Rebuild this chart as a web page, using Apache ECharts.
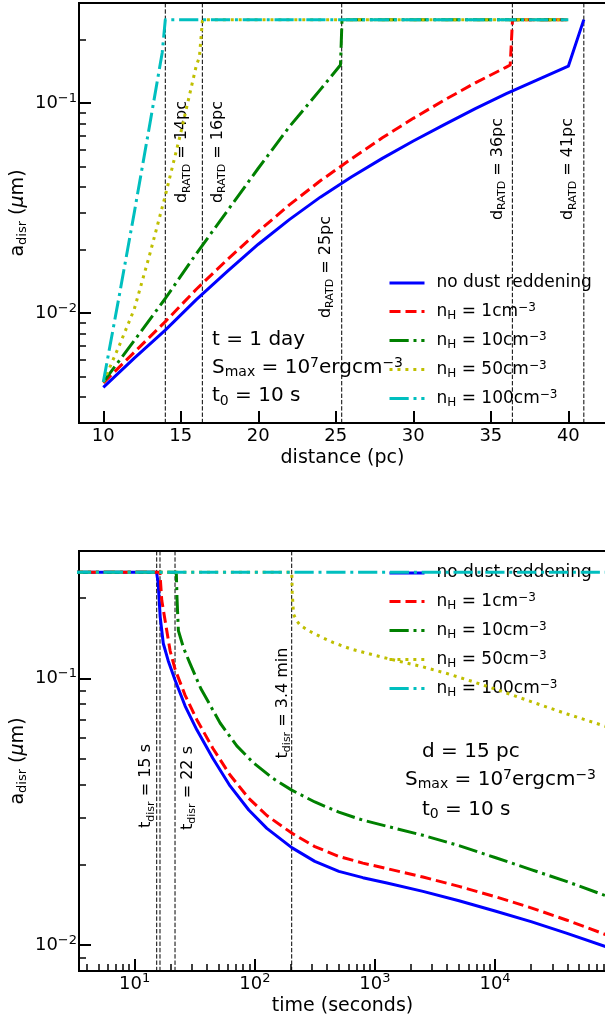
<!DOCTYPE html>
<html><head><meta charset="utf-8">
<script src="https://cdn.jsdelivr.net/npm/echarts@6/dist/echarts.min.js"></script>
<style>html,body{margin:0;padding:0;background:#fff}#c{width:605px;height:1017px}</style>
</head><body><div id="c"></div>
<script>
const FONT = 'DejaVu Sans';
const BLACK = '#000000';

// ---------- top panel (t = 1 day): a_disr vs distance (pc) ----------
const dist_noDust = [10, 12, 14, 16, 18, 20, 22, 24, 26, 28, 30, 32, 34, 36, 38, 40, 41];
const adisr_noDust = [0.00443, 0.00611, 0.0083, 0.0116, 0.0158, 0.0213, 0.0279, 0.0357, 0.0445, 0.0546, 0.0661, 0.0791, 0.0942, 0.111, 0.129, 0.150, 0.25];
const dist_n1 = [10, 12, 14, 16, 18, 20, 22, 24, 26, 28, 30, 32, 34, 36, 36.25, 36.4, 40];
const adisr_n1 = [0.00466, 0.00652, 0.00912, 0.0130, 0.0180, 0.0245, 0.0328, 0.0427, 0.0543, 0.0684, 0.0847, 0.1035, 0.125, 0.1486, 0.152, 0.25, 0.25];
const dist_n10 = [10, 12, 14, 16, 18, 20, 22, 24, 25.3, 25.4, 40];
const adisr_n10 = [0.0047, 0.00741, 0.01175, 0.0192, 0.0307, 0.049, 0.0772, 0.116, 0.152, 0.25, 0.25];
const dist_n50 = [10, 11, 12, 13, 14, 15, 16, 16.2, 16.4, 40];
const adisr_n50 = [0.0047, 0.00692, 0.01047, 0.0191, 0.0363, 0.0724, 0.151, 0.166, 0.25, 0.25];
const dist_n100 = [10, 11, 12, 13, 13.8, 14, 40];
const adisr_n100 = [0.0047, 0.0118, 0.0302, 0.0794, 0.174, 0.25, 0.25];

// ---------- bottom panel (d = 15 pc): a_disr vs time (s) ----------
const time_noDust = [3, 15.2, 15.7, 16.3, 17.3, 19, 21.7, 26.3, 32.9, 44.7, 62.2, 89.1, 126, 203, 316, 501, 794, 1259, 2512, 5012, 10000, 19953, 39811, 84000];
const adisr2_noDust = [0.25, 0.25, 0.226, 0.17, 0.135, 0.1164, 0.0983, 0.0787, 0.0641, 0.0502, 0.0395, 0.0321, 0.0274, 0.0232, 0.0206, 0.0189, 0.0179, 0.0171, 0.0159, 0.01466, 0.01343, 0.01225, 0.01107, 0.00986];
const time_n1 = [3, 16.2, 16.8, 19.7, 21.7, 26.3, 32.9, 44.7, 62.2, 89.1, 126, 203, 316, 501, 794, 1259, 2512, 5012, 10000, 19953, 39811, 84000];
const adisr2_n1 = [0.25, 0.25, 0.196, 0.127, 0.108, 0.0863, 0.070, 0.0547, 0.0434, 0.0355, 0.0306, 0.0263, 0.0234, 0.0215, 0.0203, 0.01936, 0.0180, 0.0166, 0.0152, 0.0138, 0.0124, 0.01094];
const time_n10 = [3, 22.2, 22.5, 23.1, 25.5, 28.9, 35.5, 51.4, 70.8, 97.5, 141, 203, 316, 501, 794, 1259, 2512, 5012, 10000, 19953, 39811, 84000];
const adisr2_n10 = [0.25, 0.25, 0.2, 0.151, 0.130, 0.1135, 0.0916, 0.068, 0.0558, 0.0482, 0.0422, 0.0381, 0.0344, 0.0315, 0.0294, 0.0279, 0.0258, 0.0236, 0.0213, 0.0192, 0.0173, 0.0153];
const time_n50 = [3, 203, 205, 210, 224, 239, 282, 355, 452, 631, 1000, 1585, 2512, 3981, 6310, 10000, 19953, 39811, 84000];
const adisr2_n50 = [0.25, 0.25, 0.209, 0.174, 0.164, 0.158, 0.1507, 0.143, 0.136, 0.1288, 0.1219, 0.1159, 0.1104, 0.1042, 0.0977, 0.0912, 0.0818, 0.0735, 0.066];
const time_n100 = [3, 84000];
const adisr2_n100 = [0.25, 0.25];

// ---------- markers (dashed vertical lines) ----------
const topMarkers = [14.0, 16.39, 25.38, 36.39, 41.0];
const topMarkerText = ['14pc', '16pc', '25pc', '36pc', '41pc'];
const botMarkers = [15.25, 16.24, 21.66, 202.8];
const botMarkerText = ['15 s', '', '22 s', '3.4 min'];

// ---------- ticks & ranges ----------
const topXTicks = [10, 15, 20, 25, 30, 35, 40];
const topYTicks = [0.01, 0.1];
const topYMinor = [0.004, 0.005, 0.006, 0.007, 0.008, 0.009, 0.02, 0.03, 0.04, 0.05, 0.06, 0.07, 0.08, 0.09, 0.2];
const botXTicks = [10, 100, 1000, 10000];
const botXMinor = [4, 5, 6, 7, 8, 9, 20, 30, 40, 50, 60, 70, 80, 90, 200, 300, 400, 500, 600, 700, 800, 900,
  2000, 3000, 4000, 5000, 6000, 7000, 8000, 9000, 20000, 30000, 40000, 50000, 60000, 70000, 80000];
const botYTicks = [0.01, 0.1];
const botYMinor = [0.009, 0.02, 0.03, 0.04, 0.05, 0.06, 0.07, 0.08, 0.09, 0.2];
const topXRange = [8.432, 42.43];
const topYRange = [0.003, 0.3];
const botXRange = [3.437, 83950];
const botYRange = [0.008, 0.3];

// ---------- names / text ----------
const seriesNames = ['no dust reddening', 'nH = 1 cm-3', 'nH = 10 cm-3', 'nH = 50 cm-3', 'nH = 100 cm-3'];
const legendText = ['{m|no dust reddening}', '{m|n}{sub|H}{m| = 1cm}{sup|−3}', '{m|n}{sub|H}{m| = 10cm}{sup|−3}',
  '{m|n}{sub|H}{m| = 50cm}{sup|−3}', '{m|n}{sub|H}{m| = 100cm}{sup|−3}'];

// ---------- styles / layout ----------
const colors = ['#0000ff', '#ff0000', '#008000', '#bfbf00', '#00bfbf'];
const dashes = ['solid', [11, 5], [19.2, 4.8, 3, 4.8], [3, 4.95], [19.2, 4.8, 3, 4.8]];
const topMarkerPlace = [[17, 149], [15, 149], [-16, 264], [-14.5, 166], [-15.5, 166]];
const botMarkerPlace = [[-10.5, 235], [0, 0], [13, 237], [-9, 152]];

function mkRich(F, f, L, raise, drop) {
  const base = { fontFamily: FONT, color: BLACK, fill: BLACK };
  return {
    m: Object.assign({}, base, { fontSize: F, lineHeight: L }),
    it: Object.assign({}, base, { fontSize: F, lineHeight: L, fontStyle: 'italic' }),
    sup: Object.assign({}, base, { fontSize: f, lineHeight: L, height: L - 2 * raise, verticalAlign: 'top' }),
    sub: Object.assign({}, base, { fontSize: f, lineHeight: L, height: L - 2 * drop, verticalAlign: 'bottom' })
  };
}
const richTick = mkRich(18, 13, 22, 5, 4);
const richLegend = mkRich(17, 12, 20, 3.8, 4.5);
const richAnn = mkRich(20, 14, 24, 4.3, 5.3);
const richMarker = mkRich(16, 11, 20, 4, 4.5);
const richName = mkRich(19, 13, 22, 4, 4.5);

const zip = (xs, ys) => xs.map((x, i) => [x, ys[i]]);
const topData = [zip(dist_noDust, adisr_noDust), zip(dist_n1, adisr_n1), zip(dist_n10, adisr_n10), zip(dist_n50, adisr_n50), zip(dist_n100, adisr_n100)];
const botData = [zip(time_noDust, adisr2_noDust), zip(time_n1, adisr2_n1), zip(time_n10, adisr2_n10), zip(time_n50, adisr2_n50), zip(time_n100, adisr2_n100)];

function lineSeries(gi, k, data) {
  return {
    name: seriesNames[k], type: 'line', xAxisIndex: gi, yAxisIndex: gi, data: data,
    symbol: 'none', showSymbol: false, smooth: false, clip: true, silent: true, z: 3 + k,
    lineStyle: { color: colors[k], width: 3, type: dashes[k], cap: 'butt', join: 'round' },
    itemStyle: { color: colors[k] }, emphasis: { disabled: true }
  };
}

function vlineSeries(gi, xs, labels, place, yr) {
  return {
    type: 'custom', xAxisIndex: gi, yAxisIndex: gi, silent: true, z: 2, clip: false,
    data: xs.map((x, i) => [x, yr[1], i]),
    renderItem: function (params, api) {
      const x = api.value(0), i = api.value(2);
      const p1 = api.coord([x, yr[1]]), p0 = api.coord([x, yr[0]]);
      const children = [{
        type: 'line', shape: { x1: p1[0], y1: p1[1], x2: p0[0], y2: p0[1] },
        style: { stroke: BLACK, lineWidth: 1, lineDash: [4.4, 1.9] }
      }];
      if (labels[i]) {
        const sub = gi === 0 ? 'RATD' : 'disr';
        const letter = gi === 0 ? 'd' : 't';
        children.push({
          type: 'text', x: p1[0] + place[i][0], y: p1[1] + place[i][1], rotation: Math.PI / 2,
          style: {
            text: '{m|' + letter + '}{sub|' + sub + '}{m| = ' + labels[i] + '}', rich: richMarker,
            fontFamily: FONT, fontSize: 16, lineHeight: 20, fill: BLACK,
            align: 'center', verticalAlign: 'middle', textAlign: 'center', textVerticalAlign: 'middle'
          }
        });
      }
      return { type: 'group', children: children };
    }
  };
}

const powLabel = v => {
  const e = Math.round(Math.log10(v));
  return '{m|10}{sup|' + (e < 0 ? '−' + (-e) : e) + '}';
};

function mainAxis(gi, type, range, ticks, pos, extra) {
  const ax = {
    gridIndex: gi, type: type, min: range[0], max: range[1], position: pos,
    axisLine: { show: true, onZero: false, lineStyle: { color: BLACK, width: 2 } },
    axisTick: { show: true, inside: true, length: 12, lineStyle: { color: BLACK, width: 2 }, customValues: ticks },
    axisLabel: {
      show: true, customValues: ticks, color: BLACK, fontFamily: FONT, fontSize: 18, lineHeight: 22, margin: 2,
      rich: richTick
    },
    splitLine: { show: false }, minorTick: { show: false }, minorSplitLine: { show: false },
    nameMoveOverlap: false
  };
  if (type === 'log') { ax.logBase = 10; ax.axisLabel.formatter = powLabel; }
  else { ax.axisLabel.formatter = v => '{m|' + v + '}'; }
  return Object.assign(ax, extra || {});
}
function minorAxis(gi, type, range, ticks, pos) {
  const ax = {
    gridIndex: gi, type: type, min: range[0], max: range[1], position: pos,
    axisLine: { show: false },
    axisTick: { show: true, inside: true, length: 7, lineStyle: { color: BLACK, width: 1.5 }, customValues: ticks },
    axisLabel: { show: false }, splitLine: { show: false }
  };
  if (type === 'log') ax.logBase = 10;
  return ax;
}

const yName = '{m|a}{sub|disr}{m| (}{it|μ}{m|m)}';
const xNameStyle = { color: BLACK, fontFamily: FONT, fontSize: 19, lineHeight: 19 };
const yNameStyle = { color: BLACK, fontFamily: FONT, fontSize: 19, lineHeight: 22, rich: richName };

const option = {
  animation: false,
  backgroundColor: '#ffffff',
  grid: [
    { left: 79, top: 3, width: 527, height: 420, show: true, borderColor: BLACK, borderWidth: 2, backgroundColor: 'transparent', containLabel: false, outerBoundsMode: 'none' },
    { left: 79, top: 551, width: 527, height: 420, show: true, borderColor: BLACK, borderWidth: 2, backgroundColor: 'transparent', containLabel: false, outerBoundsMode: 'none' }
  ],
  xAxis: [
    mainAxis(0, 'value', topXRange, topXTicks, 'bottom', { name: 'distance (pc)', nameLocation: 'middle', nameGap: 26, nameTextStyle: xNameStyle }),
    mainAxis(1, 'log', botXRange, botXTicks, 'bottom', { name: 'time (seconds)', nameLocation: 'middle', nameGap: 26, nameTextStyle: xNameStyle }),
    minorAxis(1, 'log', botXRange, botXMinor, 'bottom')
  ],
  yAxis: [
    mainAxis(0, 'log', topYRange, topYTicks, 'left', { name: yName, nameLocation: 'middle', nameGap: 50, nameRotate: 90, nameTextStyle: yNameStyle }),
    mainAxis(1, 'log', botYRange, botYTicks, 'left', { name: yName, nameLocation: 'middle', nameGap: 50, nameRotate: 90, nameTextStyle: yNameStyle }),
    minorAxis(0, 'log', topYRange, topYMinor, 'left'),
    minorAxis(1, 'log', botYRange, botYMinor, 'left')
  ],
  legend: [273, 563].map(t => ({
    data: seriesNames, orient: 'vertical', left: 388, top: t, padding: 0,
    itemWidth: 35, itemHeight: 14, itemGap: 8.5, selectedMode: false,
    itemStyle: { opacity: 0 }, lineStyle: { width: 3 },
    textStyle: { color: BLACK, fontFamily: FONT, fontSize: 17, lineHeight: 20, padding: [0, 0, 0, 7], rich: richLegend },
    formatter: name => legendText[seriesNames.indexOf(name)]
  })),
  graphic: [
    [212, 340, '{m|t = 1 day}'],
    [212, 367.5, '{m|S}{sub|max}{m| = 10}{sup|7}{m|ergcm}{sup|−3}'],
    [212, 396, '{m|t}{sub|0}{m| = 10 s}'],
    [422, 752, '{m|d = 15 pc}'],
    [405, 779.5, '{m|S}{sub|max}{m| = 10}{sup|7}{m|ergcm}{sup|−3}'],
    [422, 809.5, '{m|t}{sub|0}{m| = 10 s}']
  ].map(g => ({
    type: 'text', x: g[0], y: g[1], z: 100, silent: true,
    style: { text: g[2], rich: richAnn, fontFamily: FONT, fontSize: 20, lineHeight: 24, fill: BLACK,
      align: 'left', verticalAlign: 'middle', textAlign: 'left', textVerticalAlign: 'middle' }
  })),
  series: [
    vlineSeries(0, topMarkers, topMarkerText, topMarkerPlace, topYRange),
    vlineSeries(1, botMarkers, botMarkerText, botMarkerPlace, botYRange)
  ].concat(topData.map((d, k) => lineSeries(0, k, d)))
   .concat(botData.map((d, k) => lineSeries(1, k, d)))
};

const chart = echarts.init(document.getElementById('c'), null, { renderer: 'canvas' });
chart.setOption(option);
</script></body></html>
